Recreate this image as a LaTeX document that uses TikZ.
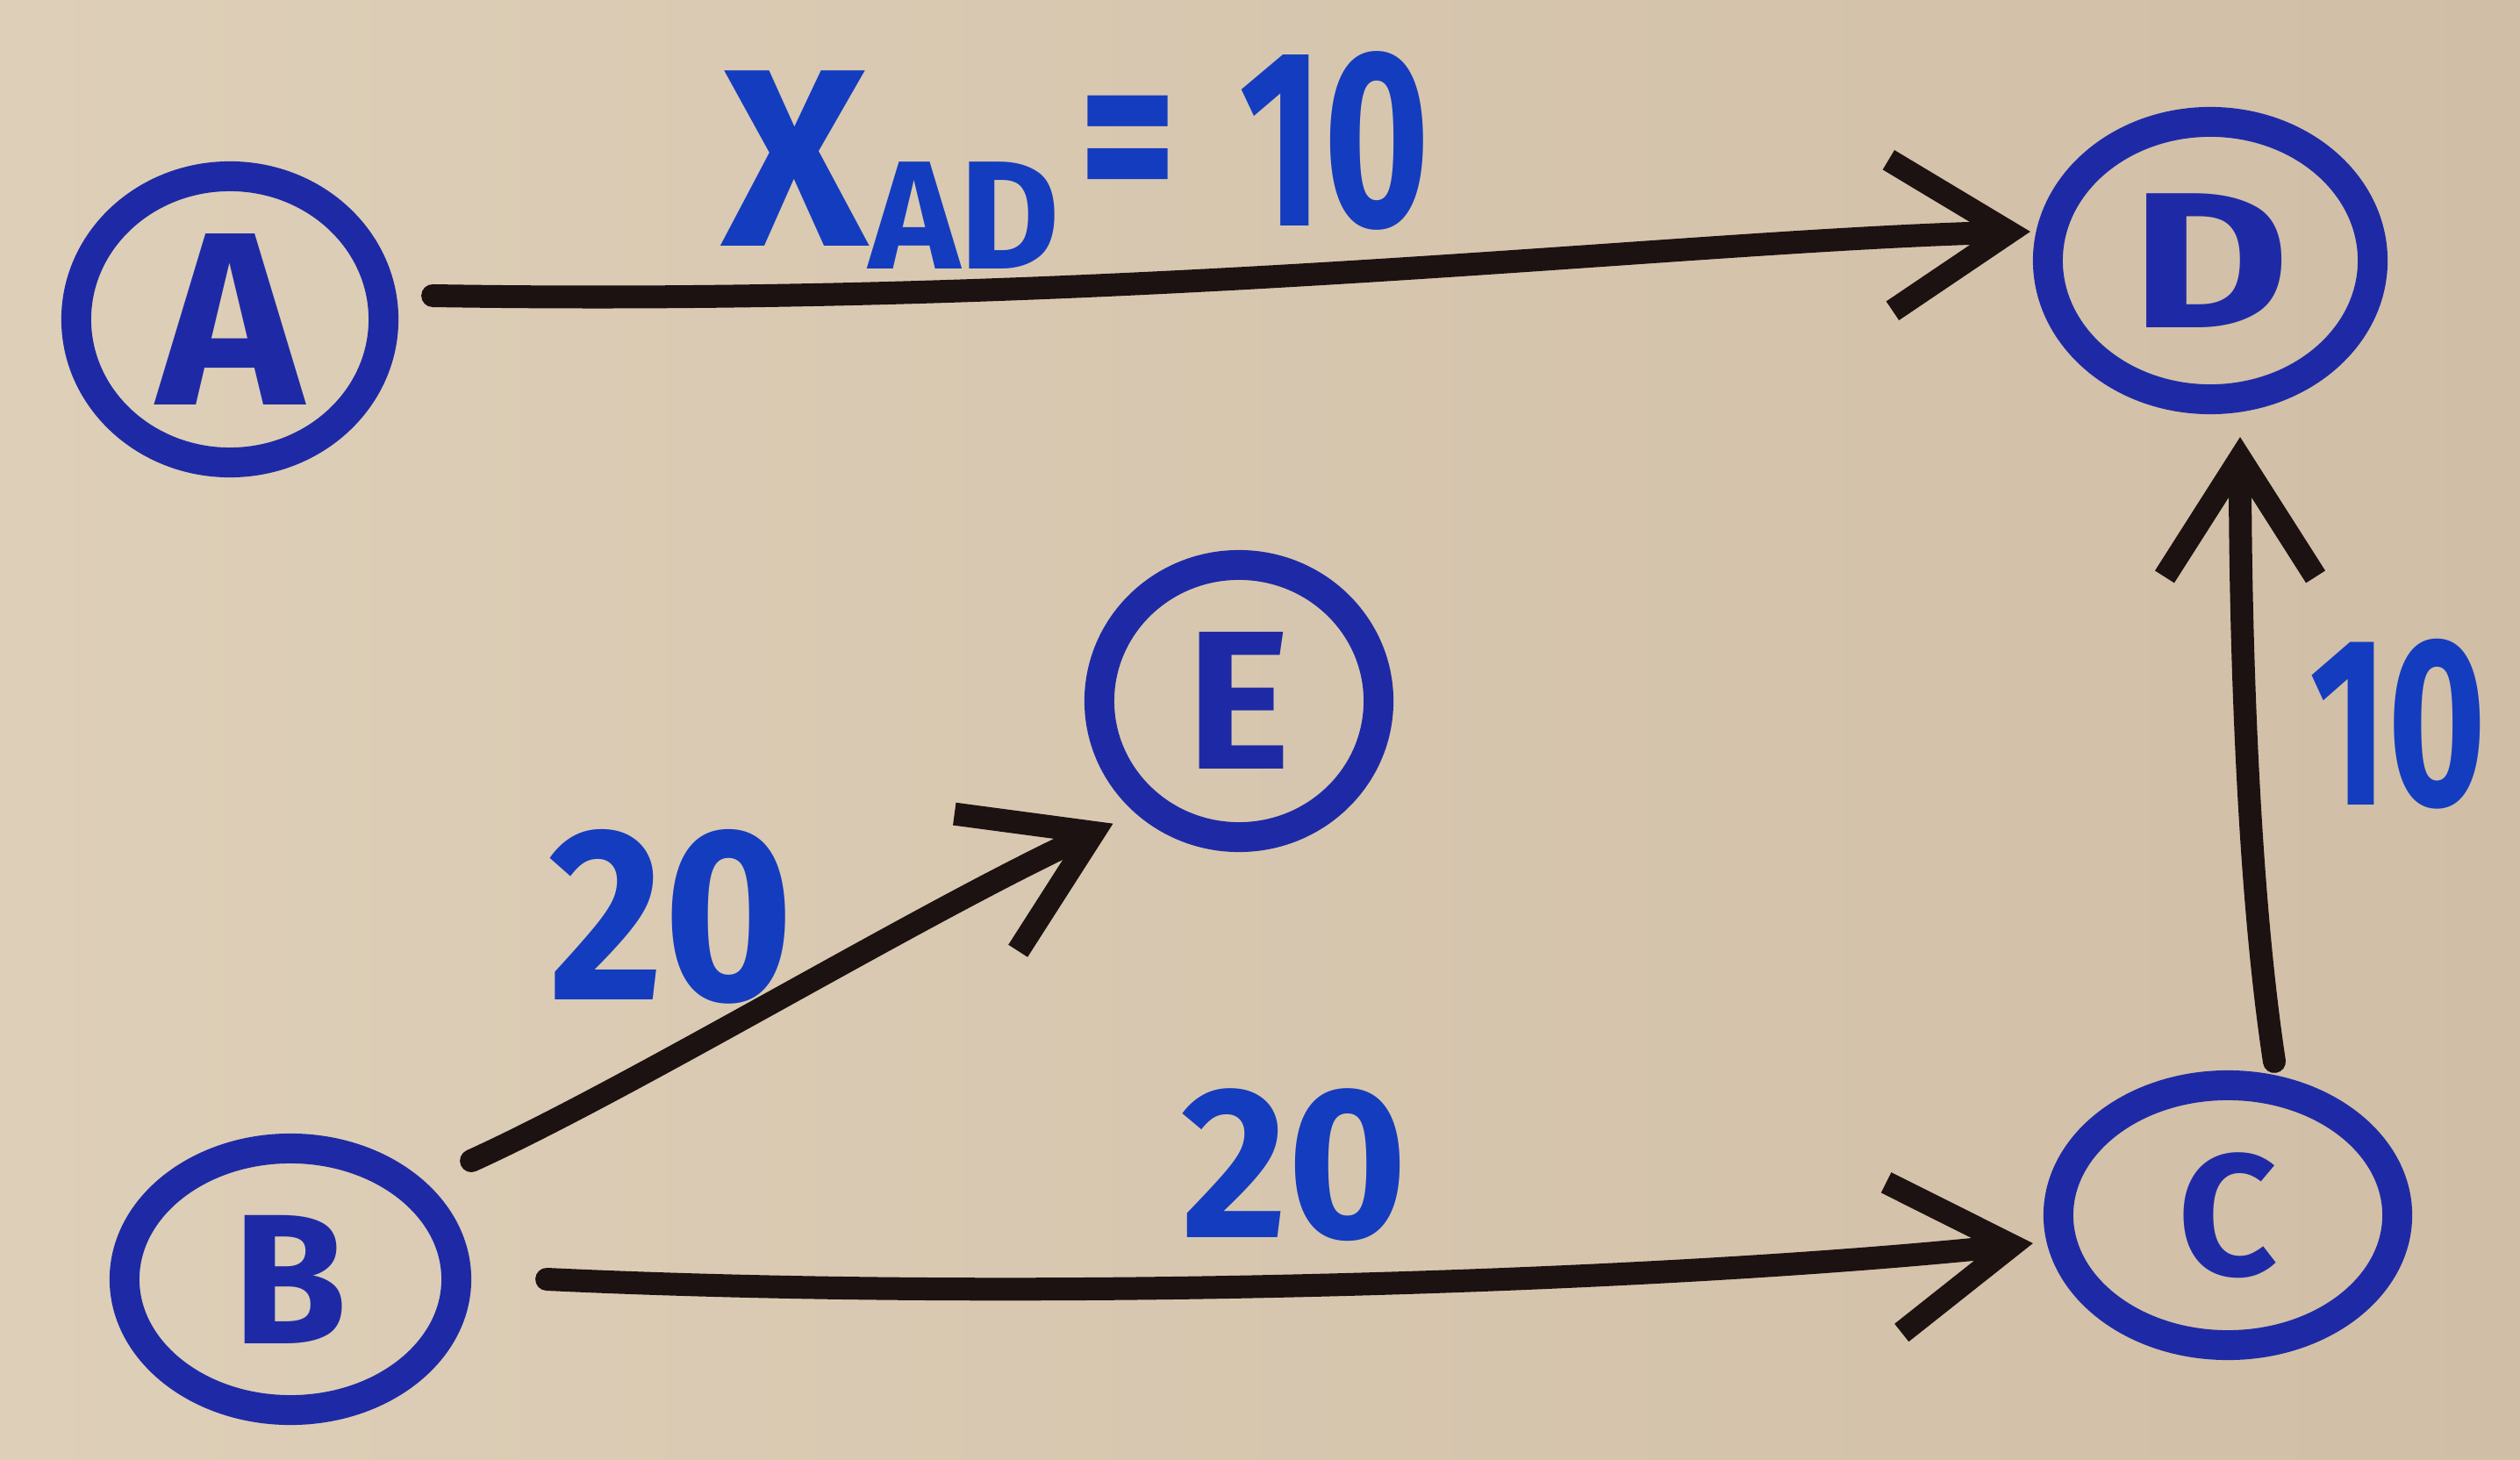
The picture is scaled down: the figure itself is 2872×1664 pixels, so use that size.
\documentclass[tikz,border=0pt]{standalone}
\usepackage{fontspec}
\setmainfont{Fira Sans}
\usetikzlibrary{arrows.meta,shapes.geometric}
\definecolor{paperL}{RGB}{222,207,184}
\definecolor{paperR}{RGB}{209,190,166}
\definecolor{penblue}{RGB}{30,42,165}
\definecolor{labelblue}{RGB}{20,60,190}
\definecolor{ink}{RGB}{28,18,18}
\begin{document}
\begin{tikzpicture}[x=0.01cm,y=-0.01cm,
  state/.style={ellipse, draw=penblue, line width=0.34cm, inner sep=0pt,
    text=penblue, font=\fontsize{66}{66}\selectfont\bfseries},
  edge/.style={draw=ink, line width=0.26cm, line cap=round, line join=round,
    -{Straight Barb[length=1.35cm,width=1.72cm]}},
  lab/.style={text=labelblue, inner sep=0pt, font=\bfseries}]
\shade[left color=paperL, right color=paperR] (0,0) rectangle (2872,1664);
\useasboundingbox (0,0) rectangle (2872,1664);

\node[state, minimum width=3.50cm, minimum height=3.26cm, font=\fontsize{80}{80}\selectfont\bfseries] (A) at (262,364) {A};
\node[state, minimum width=3.70cm, minimum height=3.16cm] (D) at (2519,297) {\scalebox{1.2}[0.95]{D}};
\node[state, minimum width=3.86cm, minimum height=2.96cm, font=\fontsize{56}{56}\selectfont\bfseries] (C) at (2539,1385) {C};
\node[state, minimum width=3.18cm, minimum height=3.10cm, font=\fontsize{64}{64}\selectfont\bfseries] (E) at (1412,799) {E};
\node[state, minimum width=3.78cm, minimum height=2.98cm, font=\fontsize{60}{60}\selectfont\bfseries] (B) at (331,1458) {B};

\draw[edge] ([shift={(39,-27)}]A.east) .. controls (1300,350) and (1900,275) .. ([shift={(-3,-33)}]D.west);
\draw[edge] ([shift={(0,-135)}]B.east) .. controls (720,1240) and (1050,1040) .. ([shift={(-19,18)}]E.south west);
\draw[edge] ([shift={(86,0)}]B.east) .. controls (1200,1485) and (1900,1460) .. ([shift={(-12,32)}]C.west);
\draw[edge] ([shift={(53,-10)}]C.north) .. controls (2560,1000) and (2553,700) .. ([shift={(34,26)}]D.south);

\node[lab, anchor=base west, font=\fontsize{82}{82}\selectfont\bfseries] (lAD) at (822,281)
  {X\raisebox{-0.09em}{\fontsize{50}{50}\selectfont\bfseries AD}\hspace{6pt}\raisebox{0.1em}{\scalebox{0.75}[1]{=}}\hspace{20pt}\raisebox{0.08em}{\scalebox{0.72}[1]{10}}};
\node[lab, font=\fontsize{80}{80}\selectfont\bfseries] (lBE) at (765,1045) {\scalebox{0.9}[1]{20}};
\node[lab, font=\fontsize{70}{70}\selectfont\bfseries] (lBC) at (1475,1328) {\scalebox{0.95}[1]{20}};
\node[lab, font=\fontsize{78}{78}\selectfont\bfseries] (lCD) at (2733,825) {\scalebox{0.7}[1]{10}};
\end{tikzpicture}
\end{document}
